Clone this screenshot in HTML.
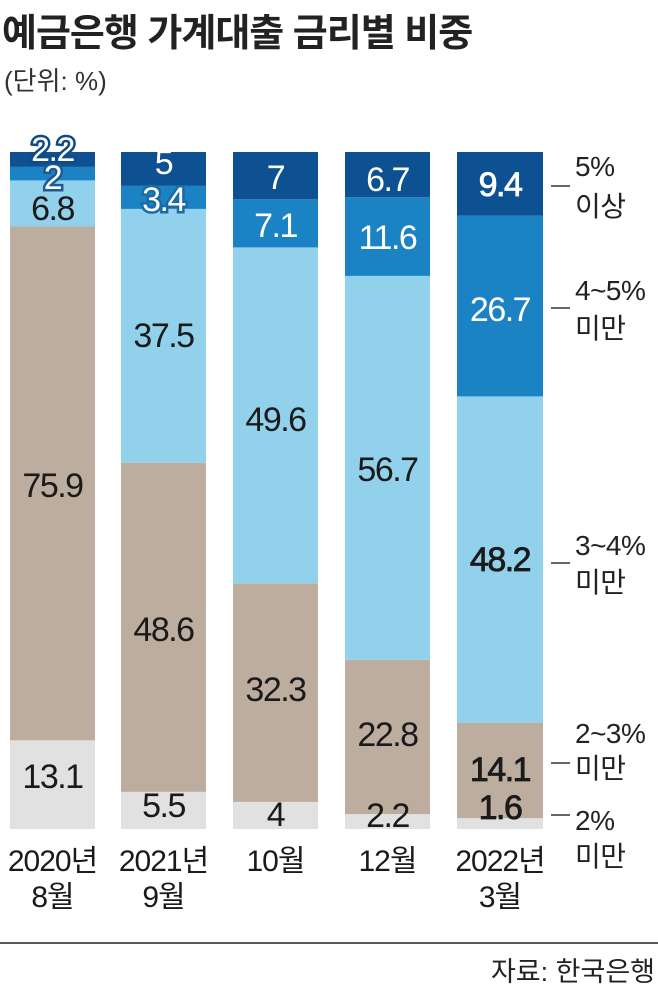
<!DOCTYPE html>
<html><head><meta charset="utf-8"><style>
html,body{margin:0;padding:0;background:#fff;}
svg{display:block;font-family:"Liberation Sans","Noto Sans CJK KR",sans-serif;}
</style></head><body>
<svg width="658" height="988" viewBox="0 0 658 988" xmlns="http://www.w3.org/2000/svg">
<text x="2" y="46" font-size="38" font-weight="bold" fill="#222" letter-spacing="-1">예금은행 가계대출 금리별 비중</text>
<text x="4" y="90" font-size="26" fill="#333">(단위: %)</text>
<g>
<rect x="10" y="740.3" width="85" height="88.7" fill="#e1e1e1"/>
<rect x="10" y="226.5" width="85" height="513.8" fill="#bcad9f"/>
<rect x="10" y="180.4" width="85" height="46.1" fill="#91d1ec"/>
<rect x="10" y="166.9" width="85" height="13.5" fill="#1b82c3"/>
<rect x="10" y="152" width="85" height="14.9" fill="#0e5192"/>
<rect x="121" y="791.8" width="85" height="37.2" fill="#e1e1e1"/>
<rect x="121" y="462.7" width="85" height="329.1" fill="#bcad9f"/>
<rect x="121" y="208.9" width="85" height="253.8" fill="#91d1ec"/>
<rect x="121" y="185.9" width="85" height="23" fill="#1b82c3"/>
<rect x="121" y="152" width="85" height="33.9" fill="#0e5192"/>
<rect x="233" y="801.9" width="85" height="27.1" fill="#e1e1e1"/>
<rect x="233" y="583.3" width="85" height="218.6" fill="#bcad9f"/>
<rect x="233" y="247.4" width="85" height="335.9" fill="#91d1ec"/>
<rect x="233" y="199.3" width="85" height="48.1" fill="#1b82c3"/>
<rect x="233" y="152" width="85" height="47.3" fill="#0e5192"/>
<rect x="345" y="814.1" width="85" height="14.9" fill="#e1e1e1"/>
<rect x="345" y="659.8" width="85" height="154.3" fill="#bcad9f"/>
<rect x="345" y="275.9" width="85" height="383.9" fill="#91d1ec"/>
<rect x="345" y="197.3" width="85" height="78.6" fill="#1b82c3"/>
<rect x="345" y="152" width="85" height="45.3" fill="#0e5192"/>
<rect x="457" y="818.2" width="86" height="10.8" fill="#e1e1e1"/>
<rect x="457" y="722.7" width="86" height="95.5" fill="#bcad9f"/>
<rect x="457" y="396.4" width="86" height="326.3" fill="#91d1ec"/>
<rect x="457" y="215.6" width="86" height="180.8" fill="#1b82c3"/>
<rect x="457" y="152" width="86" height="63.6" fill="#0e5192"/>
</g>
<g font-size="34" text-anchor="middle" dominant-baseline="central" fill="#1a1a1a" letter-spacing="-1.5">
<text x="52.5" y="777">13.1</text>
<text x="52.5" y="486">75.9</text>
<text x="52.5" y="209">6.8</text>
<text x="52.5" y="178" fill="#fff" stroke="#1b5a96" stroke-width="5" paint-order="stroke">2</text>
<text x="52.5" y="150" fill="#fff" stroke="#0e4a86" stroke-width="5" paint-order="stroke">2.2</text>
<text x="163.5" y="806">5.5</text>
<text x="163.5" y="630">48.6</text>
<text x="163.5" y="336">37.5</text>
<text x="163.5" y="200" fill="#fff" stroke="#1b6aa8" stroke-width="5" paint-order="stroke">3.4</text>
<text x="163.5" y="163" fill="#fff">5</text>
<text x="275.5" y="815">4</text>
<text x="275.5" y="690">32.3</text>
<text x="275.5" y="420">49.6</text>
<text x="275.5" y="226" fill="#fff">7.1</text>
<text x="275.5" y="178" fill="#fff">7</text>
<text x="387.5" y="816">2.2</text>
<text x="387.5" y="735">22.8</text>
<text x="387.5" y="470">56.7</text>
<text x="387.5" y="238" fill="#fff">11.6</text>
<text x="387.5" y="180" fill="#fff">6.7</text>
<text x="500" y="808" stroke="#1a1a1a" stroke-width="0.8">1.6</text>
<text x="500" y="770" stroke="#1a1a1a" stroke-width="0.8">14.1</text>
<text x="500" y="560" stroke="#1a1a1a" stroke-width="0.8">48.2</text>
<text x="500" y="310" fill="#fff">26.7</text>
<text x="500" y="185" fill="#fff" stroke="#fff" stroke-width="0.8">9.4</text>
</g>
<g font-size="30" text-anchor="middle" fill="#1a1a1a" letter-spacing="-1">
<text x="52.5" y="871">2020년</text><text x="52.5" y="907">8월</text>
<text x="163.5" y="871">2021년</text><text x="163.5" y="907">9월</text>
<text x="275.5" y="871">10월</text>
<text x="387.5" y="871">12월</text>
<text x="500" y="871">2022년</text><text x="500" y="907">3월</text>
</g>
<g font-size="28" fill="#222" letter-spacing="-0.5">
<text x="575" y="176">5%</text><text x="575" y="216">이상</text>
<text x="575" y="300">4~5%</text><text x="575" y="338">미만</text>
<text x="575" y="555">3~4%</text><text x="575" y="592">미만</text>
<text x="575" y="743">2~3%</text><text x="575" y="778">미만</text>
<text x="575" y="830">2%</text><text x="575" y="866">미만</text>
</g>
<g stroke="#333" stroke-width="1.5">
<line x1="551" y1="186" x2="570" y2="186"/>
<line x1="551" y1="308" x2="570" y2="308"/>
<line x1="551" y1="563" x2="570" y2="563"/>
<line x1="551" y1="763" x2="570" y2="763"/>
<line x1="551" y1="815" x2="570" y2="815"/>
<line x1="0" y1="943" x2="658" y2="943" stroke="#222"/>
</g>
<text x="655" y="981" font-size="27" text-anchor="end" fill="#222">자료: 한국은행</text>
</svg>
</body></html>
